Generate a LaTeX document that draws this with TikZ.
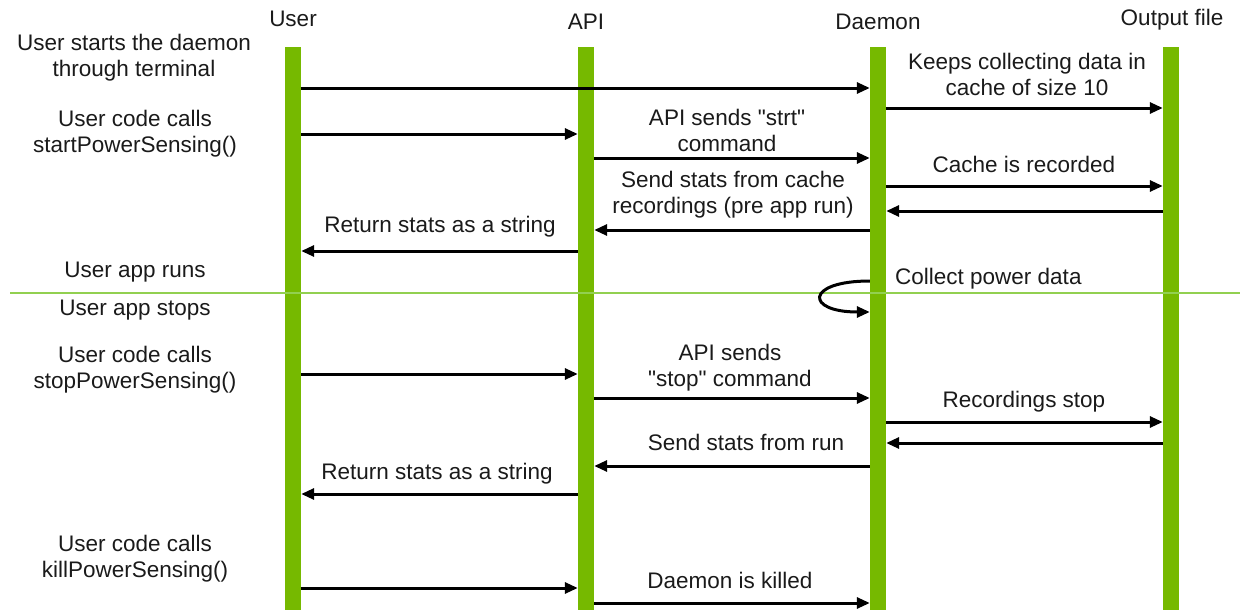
\documentclass[tikz,border=0pt]{standalone}
\usepackage{fontspec}
\setmainfont{Liberation Sans}[Ligatures=TeXOff]
\usetikzlibrary{arrows.meta}
\definecolor{lifegreen}{HTML}{76B900}
\definecolor{sepgreen}{HTML}{92D050}
\definecolor{txt}{HTML}{1A1A1A}
\tikzset{
  lifeline/.style={rectangle, fill=lifegreen, draw=none, minimum width=16pt, minimum height=563pt, inner sep=0pt, anchor=north},
  msg/.style={line width=3pt, -{Triangle[length=13pt,width=11pt]}, black},
  lbl/.style={text=txt, align=center, inner sep=0pt, font=\fontsize{22.5}{26}\selectfont},
  sepline/.style={draw=sepgreen, line width=2pt}
}
\begin{document}
\begin{tikzpicture}[x=1pt,y=-1pt]
\useasboundingbox (0,0) rectangle (1242,610);
% lifelines
\node[lifeline] (user) at (293,47) {};
\node[lifeline] (api) at (586,47) {};
\node[lifeline] (daemon) at (878,47) {};
\node[lifeline] (out) at (1171,47) {};
% headers
\node[lbl] (hu) at (293,19) {User};
\node[lbl] (ha) at (586,22) {API};
\node[lbl] (hd) at (878,22) {Daemon};
\node[lbl] (ho) at (1172,20) {Output file};
% left column
\node[lbl] (l1) at (134,58) {User starts the daemon\\through terminal};
\node[lbl] (l2) at (135,134) {User code calls\\startPowerSensing()};
\node[lbl] (l3) at (135,272) {User app runs};
\node[lbl] (l4) at (135,310) {User app stops};
\node[lbl] (l5) at (135,370) {User code calls\\stopPowerSensing()};
\node[lbl] (l6) at (135,559) {User code calls\\killPowerSensing()};
% message labels
\node[lbl] (m1) at (1027,74) {Keeps collecting data in\\cache of size 10};
\node[lbl] (m2) at (727,130) {API sends "strt"\\command};
\node[lbl] (m3) at (1024,164) {Cache is recorded};
\node[lbl] (m4) at (733,195) {Send stats from cache\\recordings (pre app run)};
\node[lbl] (m5) at (440,227) {Return stats as a string};
\node[lbl, anchor=west] (m6) at (895,279) {Collect power data};
\node[lbl] (m7) at (730,368) {API sends\\"stop" command};
\node[lbl] (m8) at (1024,402) {Recordings stop};
\node[lbl] (m9) at (746,442) {Send stats from run};
\node[lbl] (m10) at (437,474) {Return stats as a string};
\node[lbl] (m11) at (730,580) {Daemon is killed};
% separator
\draw[sepline] (10,293) -- (1240,293);
% messages
\draw[msg] (user.east |- 0,88) -- (daemon.west |- 0,88);
\draw[msg] (daemon.east |- 0,108) -- (out.west |- 0,108);
\draw[msg] (user.east |- 0,134) -- (api.west |- 0,134);
\draw[msg] (api.east |- 0,158) -- (daemon.west |- 0,158);
\draw[msg] (daemon.east |- 0,186) -- (out.west |- 0,186);
\draw[msg] (out.west |- 0,211) -- (daemon.east |- 0,211);
\draw[msg] (daemon.west |- 0,230) -- (api.east |- 0,230);
\draw[msg] (api.west |- 0,251) -- (user.east |- 0,251);
\draw[msg] (daemon.west |- 0,281) .. controls (805,281) and (805,312) .. (daemon.west |- 0,312);
\draw[msg] (user.east |- 0,374) -- (api.west |- 0,374);
\draw[msg] (api.east |- 0,398) -- (daemon.west |- 0,398);
\draw[msg] (daemon.east |- 0,422) -- (out.west |- 0,422);
\draw[msg] (out.west |- 0,443) -- (daemon.east |- 0,443);
\draw[msg] (daemon.west |- 0,466) -- (api.east |- 0,466);
\draw[msg] (api.west |- 0,494) -- (user.east |- 0,494);
\draw[msg] (user.east |- 0,588) -- (api.west |- 0,588);
\draw[msg] (api.east |- 0,603) -- (daemon.west |- 0,603);
\end{tikzpicture}
\end{document}
